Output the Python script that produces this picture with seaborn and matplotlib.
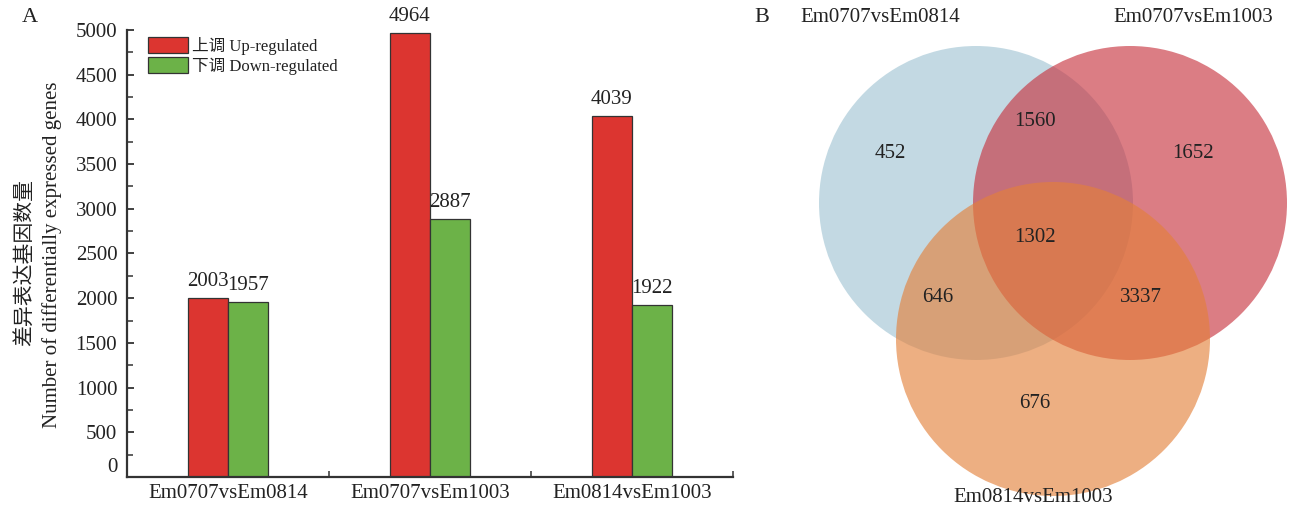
import numpy as np
import pandas as pd
import matplotlib
matplotlib.use("Agg")
import matplotlib.pyplot as plt
from matplotlib.patches import Circle
from matplotlib.ticker import MultipleLocator, FixedLocator
import seaborn as sns

# ---------------- data ----------------
comparisons = ["Em0707vsEm0814", "Em0707vsEm1003", "Em0814vsEm1003"]
up_counts = [2003, 4964, 4039]
down_counts = [1957, 2887, 1922]
series_labels = ["上调 Up-regulated", "下调 Down-regulated"]
y_ticks = [0, 500, 1000, 1500, 2000, 2500, 3000, 3500, 4000, 4500, 5000]

venn_sets = ["Em0707vsEm0814", "Em0707vsEm1003", "Em0814vsEm1003"]
venn_regions = ["A only", "A&B", "B only", "A&B&C", "A&C", "B&C", "C only"]
venn_counts = [452, 1560, 1652, 1302, 646, 3337, 676]

# ---------------- style ----------------
sns.set_style("ticks")
FAM = ["Liberation Serif", "Noto Sans CJK SC"]
plt.rcParams["font.family"] = FAM
plt.rcParams["axes.unicode_minus"] = False

W, H = 1289, 511
fig = plt.figure(figsize=(W / 100, H / 100), dpi=100)

def fx(px):
    return px / W

def fy(py):
    return 1 - py / H

# ---------------- panel A: bars ----------------
ax = fig.add_axes([fx(127), fy(477), fx(733) - fx(127), fy(30) - fy(477)])
df = pd.DataFrame({
    "comparison": comparisons * 2,
    "type": [series_labels[0]] * 3 + [series_labels[1]] * 3,
    "count": up_counts + down_counts,
})
sns.barplot(data=df, x="comparison", y="count", hue="type",
            palette=["#dc3530", "#6cb248"], width=0.4, ax=ax,
            edgecolor="#333333", linewidth=0.9, saturation=1)

for cont in ax.containers:
    ax.bar_label(cont, fmt="%d", padding=5, fontsize=15, color="#222222")

ax.set_xlim(-0.5, 2.5)
ax.set_ylim(0, 5000)
ax.yaxis.set_major_locator(FixedLocator(y_ticks))
ax.yaxis.set_minor_locator(MultipleLocator(250))
ax.xaxis.set_minor_locator(FixedLocator([0.5, 1.5, 2.5]))
ax.tick_params(axis="both", which="major", direction="in", length=5, width=1.3,
               color="#333333", labelsize=15, labelcolor="#222222")
ax.tick_params(axis="y", which="major", pad=7)
ax.tick_params(axis="x", which="major", pad=5)
ax.tick_params(axis="both", which="minor", direction="in", length=4, width=1.1, color="#333333")
ax.set_xlabel("")
ax.set_ylabel("")
for s in ["top", "right"]:
    ax.spines[s].set_visible(False)
for s in ["left", "bottom"]:
    ax.spines[s].set_color("#333333")
    ax.spines[s].set_linewidth(1.6)

ylabs = ax.get_yticklabels()
ylabs[0].set_va("bottom")

leg = ax.legend(loc="upper left", bbox_to_anchor=(0.035, 0.985), frameon=False,
                fontsize=12, handlelength=2.4, handleheight=1.15, handletextpad=0.25,
                labelspacing=0.12, borderaxespad=0, borderpad=0)
for t in leg.get_texts():
    t.set_color("#222222")

fig.text(fx(25), fy(262), "差异表达基因数量", rotation=90, ha="center", va="center",
         fontsize=15, color="#222222")
fig.text(fx(52), fy(255), "Number of differentially expressed genes", rotation=90,
         ha="center", va="center", fontsize=15, color="#222222")
fig.text(fx(30), fy(18), "A", ha="center", va="center", fontsize=16, color="#222222")

# ---------------- panel B: venn ----------------
vx = fig.add_axes([fx(760), 0, fx(1289) - fx(760), 1])
vx.set_xlim(760, 1289)
vx.set_ylim(511, 0)
vx.axis("off")

centers = [(976, 203), (1130, 203), (1053, 339)]
colors = ["#a0c4d3", "#c7313d", "#e48039"]
for (cx, cy), col in zip(centers, colors):
    vx.add_patch(Circle((cx, cy), 157, facecolor=col, edgecolor="none", alpha=0.63))

label_pos = [(880, 18), (1193, 18), (1033, 497)]
for (lx, ly), name in zip(label_pos, venn_sets):
    vx.text(lx, ly, name, ha="center", va="center", fontsize=15, color="#222222")

count_pos = [(890, 153), (1035, 121), (1193, 153), (1035, 238), (938, 297), (1141, 297), (1035, 404)]
for (tx, ty), c in zip(count_pos, venn_counts):
    vx.text(tx, ty, str(c), ha="center", va="center", fontsize=15, color="#222222")

fig.text(fx(762), fy(18), "B", ha="center", va="center", fontsize=16, color="#222222")

fig.savefig("out.png", dpi=100)
